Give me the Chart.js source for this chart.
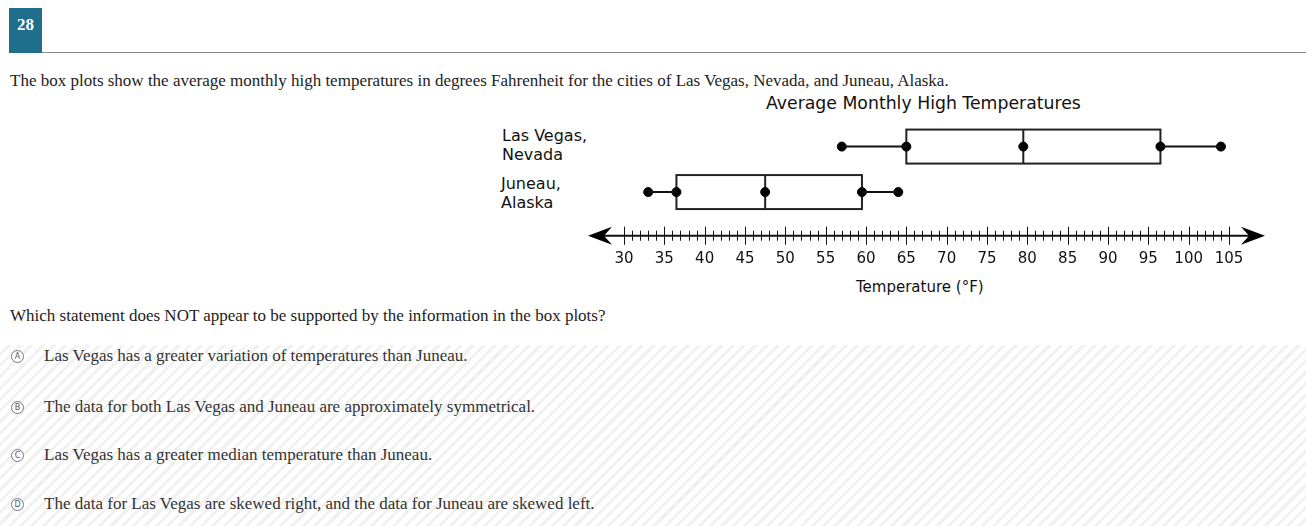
<!DOCTYPE html>
<html>
<head>
<meta charset="utf-8">
<script src="https://cdn.jsdelivr.net/npm/chart.js@4/dist/chart.umd.min.js"></script>
<style>
  body { margin: 0; width: 1306px; height: 526px; background: #fff; position: relative; overflow: hidden; font-family: "Liberation Serif", "Times New Roman", serif; color: #222; }
  .badge { position: absolute; left: 9px; top: 8px; width: 33px; height: 45px; background: #1f6e8c; color: #fff; font-weight: bold; font-size: 17px; text-align: center; line-height: 34px; }
  .rule { position: absolute; left: 42px; top: 52px; width: 1264px; border-top: 1px solid #888; }
  .txt { position: absolute; left: 10px; font-size: 17px; }
  .sans { position: absolute; font-family: "DejaVu Sans", Verdana, sans-serif; color: #111; }
  .opts { position: absolute; left: 0; top: 345px; width: 1306px; height: 181px;
    background: repeating-linear-gradient(135deg, #fff 0 5px, #f1f1f1 5px 8px); }
  .opt { position: absolute; left: 44px; font-size: 17px; color: #333; }
  .circ { position: absolute; left: 11px; width: 11px; height: 11px; border: 1px solid #777; border-radius: 50%; font: 8px "DejaVu Sans", sans-serif; text-align: center; line-height: 11px; color: #555; background: #fff; }
  #wrap { position: absolute; left: 490px; top: 88px; width: 790px; height: 210px; }
</style>
</head>
<body>
<div class="badge">28</div>
<div class="rule"></div>
<div class="txt" style="top:71px">The box plots show the average monthly high temperatures in degrees Fahrenheit for the cities of Las Vegas, Nevada, and Juneau, Alaska.</div>
<div class="sans" style="left:766px;top:93px;font-size:17.3px">Average Monthly High Temperatures</div>
<div class="sans" style="left:502px;top:126px;font-size:16px;line-height:19px">Las Vegas,<br>Nevada</div>
<div class="sans" style="left:501px;top:174px;font-size:16px;line-height:19px">Juneau,<br>Alaska</div>
<div class="sans" style="left:856px;top:278px;font-size:15px">Temperature (°F)</div>
<div id="wrap"><canvas id="c"></canvas></div>
<div class="txt" style="top:306px">Which statement does NOT appear to be supported by the information in the box plots?</div>
<div class="opts"></div>
<div class="circ" style="top:350px">A</div><div class="opt" style="top:346px">Las Vegas has a greater variation of temperatures than Juneau.</div>
<div class="circ" style="top:401px">B</div><div class="opt" style="top:397px">The data for both Las Vegas and Juneau are approximately symmetrical.</div>
<div class="circ" style="top:449px">C</div><div class="opt" style="top:445px">Las Vegas has a greater median temperature than Juneau.</div>
<div class="circ" style="top:498px">D</div><div class="opt" style="top:494px">The data for Las Vegas are skewed right, and the data for Juneau are skewed left.</div>
<script>
// five-number summaries: [min, Q1, median, Q3, max]
const cities = ['Las Vegas', 'Juneau'];
const lasVegas = [57, 65, 79.5, 96.5, 104];
const juneau = [33, 36.5, 47.5, 59.5, 64];
const tickLabels = [30, 35, 40, 45, 50, 55, 60, 65, 70, 75, 80, 85, 90, 95, 100, 105];
const rows = [1, 2];
const axisRow = 2.96;

const summaries = [lasVegas, juneau];

const datasets = [];
summaries.forEach((s, i) => {
  // whiskers
  datasets.push({ type: 'line', data: [{ x: s[0], y: rows[i] }, { x: s[1], y: rows[i] }], borderColor: '#111', borderWidth: 2, pointRadius: 0 });
  datasets.push({ type: 'line', data: [{ x: s[3], y: rows[i] }, { x: s[4], y: rows[i] }], borderColor: '#111', borderWidth: 2, pointRadius: 0 });
  // dots
  datasets.push({ type: 'scatter', label: cities[i], data: s.map(v => ({ x: v, y: rows[i] })), backgroundColor: '#000', borderColor: '#000', pointRadius: 4.5 });
});

const boxPlugin = {
  id: 'boxes',
  beforeDatasetsDraw(chart) {
    const { ctx, scales: { x, y } } = chart;
    ctx.save();
    ctx.strokeStyle = '#222';
    ctx.lineWidth = 2;
    summaries.forEach((s, i) => {
      const cy = y.getPixelForValue(rows[i]);
      const x1 = x.getPixelForValue(s[1]), x3 = x.getPixelForValue(s[3]), xm = x.getPixelForValue(s[2]);
      ctx.strokeRect(x1, cy - 17, x3 - x1, 34);
      ctx.beginPath(); ctx.moveTo(xm, cy - 17); ctx.lineTo(xm, cy + 17); ctx.stroke();
    });
    // number line
    const ay = y.getPixelForValue(axisRow);
    const left = x.getPixelForValue(30) - 36, right = x.getPixelForValue(105) + 36;
    ctx.lineWidth = 2;
    ctx.strokeStyle = '#111';
    ctx.beginPath(); ctx.moveTo(left + 10, ay); ctx.lineTo(right - 10, ay); ctx.stroke();
    ctx.fillStyle = '#000';
    ctx.beginPath(); ctx.moveTo(left, ay); ctx.lineTo(left + 24, ay - 9); ctx.lineTo(left + 16, ay); ctx.lineTo(left + 24, ay + 9); ctx.closePath(); ctx.fill();
    ctx.beginPath(); ctx.moveTo(right, ay); ctx.lineTo(right - 24, ay - 9); ctx.lineTo(right - 16, ay); ctx.lineTo(right - 24, ay + 9); ctx.closePath(); ctx.fill();
    ctx.lineWidth = 1;
    for (let v = 30; v <= 105; v++) {
      const px = Math.round(x.getPixelForValue(v)) + 0.5;
      const h = v % 5 === 0 ? 9 : 5;
      ctx.beginPath(); ctx.moveTo(px, ay - h); ctx.lineTo(px, ay + h); ctx.stroke();
    }
    ctx.font = '15px "DejaVu Sans", Verdana, sans-serif';
    ctx.fillStyle = '#111';
    ctx.textAlign = 'center';
    ctx.textBaseline = 'middle';
    tickLabels.forEach(t => ctx.fillText(String(t), x.getPixelForValue(t), ay + 23));
    ctx.restore();
  }
};

new Chart(document.getElementById('c'), {
  type: 'scatter',
  data: { datasets },
  options: {
    responsive: true,
    maintainAspectRatio: false,
    animation: false,
    layout: { padding: { left: 134, right: 51, top: 0, bottom: 0 } },
    plugins: { legend: { display: false }, tooltip: { enabled: false } },
    scales: {
      x: { type: 'linear', min: 30, max: 105, display: false },
      y: { type: 'linear', min: -0.1667, max: 4.208, reverse: true, display: false }
    }
  },
  plugins: [boxPlugin]
});
</script>
</body>
</html>
